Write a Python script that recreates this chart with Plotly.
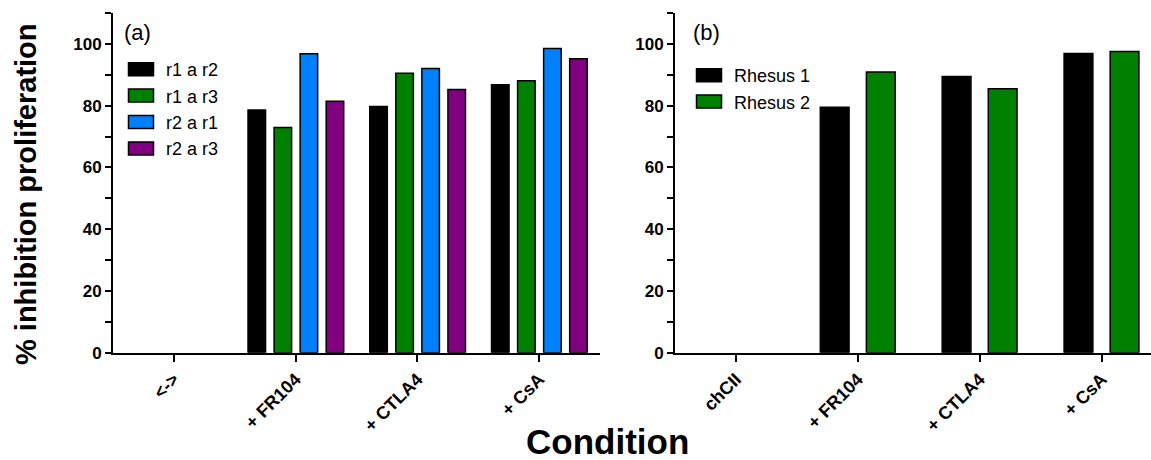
import plotly.graph_objects as go

# ---------------- data ----------------
cats_a = ["<->", "+ FR104", "+ CTLA4", "+ CsA"]
series_a = ["r1 a r2", "r1 a r3", "r2 a r1", "r2 a r3"]
r1_a_r2 = [None, 78.6, 79.7, 86.8]
r1_a_r3 = [None, 72.9, 90.5, 88.1]
r2_a_r1 = [None, 96.8, 92.0, 98.5]
r2_a_r3 = [None, 81.4, 85.2, 95.2]

cats_b = ["chCII", "+ FR104", "+ CTLA4", "+ CsA"]
series_b = ["Rhesus 1", "Rhesus 2"]
rhesus_1 = [None, 79.5, 89.4, 96.9]
rhesus_2 = [None, 90.9, 85.5, 97.5]

y_ticks = [0, 20, 40, 60, 80, 100]

# ---------------- style ----------------
W, H = 1151, 460
FONT = "Liberation Sans, Arial, sans-serif"
colors_a = ["#000000", "#008000", "#0080FF", "#800080"]
colors_b = ["#000000", "#008000"]
offsets_a = [-0.391, -0.177, 0.037, 0.251]
width_a = 0.144
offsets_b = [-0.308, 0.07]
width_b = 0.236

def px_x(p):
    return p / W

def px_y(p):
    return 1 - p / H

fig = go.Figure()

for name, vals, col, off in zip(series_a, [r1_a_r2, r1_a_r3, r2_a_r1, r2_a_r3], colors_a, offsets_a):
    fig.add_trace(go.Bar(
        x=cats_a, y=vals, name=name, xaxis="x", yaxis="y",
        marker=dict(color=col, line=dict(color="#000000", width=1.5)),
        offset=off, width=width_a, legend="legend",
    ))

for name, vals, col, off in zip(series_b, [rhesus_1, rhesus_2], colors_b, offsets_b):
    fig.add_trace(go.Bar(
        x=cats_b, y=vals, name=name, xaxis="x2", yaxis="y2",
        marker=dict(color=col, line=dict(color="#000000", width=1.5)),
        offset=off, width=width_b, legend="legend2",
    ))

y_dom = [1 - 352.7 / H, 1 - 13 / H]

xaxis_common = dict(
    type="category", showgrid=False, zeroline=False,
    showline=True, linecolor="#000000", linewidth=2,
    ticks="outside", ticklen=7, tickwidth=2, tickcolor="#000000",
    tickangle=-45, tickfont=dict(family=FONT, size=18, color="#000000", weight="bold"),
    automargin=False, fixedrange=True,
)
yaxis_common = dict(
    range=[0, 110], tickvals=y_ticks, showgrid=False, zeroline=False,
    showline=True, linecolor="#000000", linewidth=2,
    ticks="outside", ticklen=6, tickwidth=2, tickcolor="#000000",
    minor=dict(dtick=10, tick0=0, ticks="outside", ticklen=6, tickwidth=2, tickcolor="#000000", showgrid=False),
    tickfont=dict(family=FONT, size=17, color="#000000", weight="bold"),
    ticklabelstandoff=0,
    automargin=False, fixedrange=True, domain=y_dom,
)

fig.update_layout(
    width=W, height=H,
    margin=dict(l=0, r=0, t=0, b=0),
    paper_bgcolor="#ffffff", plot_bgcolor="#ffffff",
    barmode="overlay",
    font=dict(family=FONT, color="#000000"),
    xaxis=dict(xaxis_common, domain=[px_x(113), px_x(600)], range=[-0.5, 3.5], anchor="y"),
    yaxis=dict(yaxis_common, anchor="x"),
    xaxis2=dict(xaxis_common, domain=[px_x(675), 1.0], range=[-0.5, 3.405], anchor="y2"),
    yaxis2=dict(yaxis_common, anchor="x2"),
    legend=dict(
        x=px_x(126), y=px_y(51), xanchor="left", yanchor="top",
        font=dict(family=FONT, size=18, color="#000000"),
        bgcolor="rgba(0,0,0,0)", borderwidth=0, tracegroupgap=0,
    ),
    legend2=dict(
        x=px_x(694), y=px_y(57), xanchor="left", yanchor="top",
        font=dict(family=FONT, size=18, color="#000000"),
        bgcolor="rgba(0,0,0,0)", borderwidth=0, tracegroupgap=0,
    ),
    showlegend=True,
    annotations=[
        dict(text="(a)", x=px_x(122), y=px_y(32), xref="paper", yref="paper",
             xanchor="left", yanchor="middle", showarrow=False,
             font=dict(family=FONT, size=22, color="#000000")),
        dict(text="(b)", x=px_x(691), y=px_y(32), xref="paper", yref="paper",
             xanchor="left", yanchor="middle", showarrow=False,
             font=dict(family=FONT, size=22, color="#000000")),
        dict(text="Condition", x=px_x(607), y=px_y(441), xref="paper", yref="paper",
             xanchor="center", yanchor="middle", showarrow=False,
             font=dict(family=FONT, size=35, color="#000000", weight="bold")),
        dict(text="% inhibition proliferation", x=px_x(26), y=px_y(194), xref="paper", yref="paper",
             xanchor="center", yanchor="middle", textangle=-90, showarrow=False,
             font=dict(family=FONT, size=29, color="#000000", weight="bold")),
    ],
)

# page styling: no body margin; wider legend swatches like the original
post = """
document.body.style.margin = '0';
document.body.style.overflow = 'hidden';
var gd = document.getElementById('{plot_id}');
gd.querySelectorAll('.legendpoints path').forEach(function(p){
  p.setAttribute('d', 'M7.5,6.5H-17.5V-6.5H7.5Z');
});
"""

fig.write_html("out.html", post_script=post, config={"displayModeBar": False})
